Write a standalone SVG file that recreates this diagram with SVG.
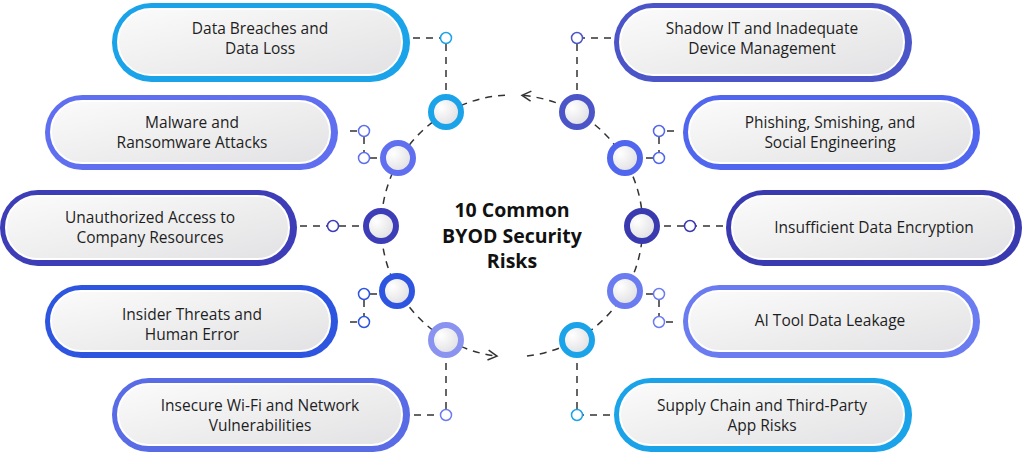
<svg xmlns="http://www.w3.org/2000/svg" width="1024" height="454" viewBox="0 0 1024 454">
<defs>
<linearGradient id="g" x1="0" y1="0" x2="1" y2="1"><stop offset="0" stop-color="#fbfbfb"/><stop offset="1" stop-color="#e2e2e4"/></linearGradient>
<radialGradient id="cg" cx="0.35" cy="0.35" r="0.8"><stop offset="0" stop-color="#ffffff"/><stop offset="1" stop-color="#d9d9dd"/></radialGradient>
<marker id="ar" viewBox="0 0 12 12" refX="10" refY="6" markerWidth="12" markerHeight="12" markerUnits="userSpaceOnUse" orient="auto"><path d="M1 1 L10 6 L1 11" fill="none" stroke="#333" stroke-width="1.5"/></marker>
<style>
.t{font-family:"Open Sans","Noto Sans",sans-serif;font-size:15.5px;fill:#1e1e1e;text-anchor:middle}
.c{font-family:"Open Sans","Noto Sans",sans-serif;font-size:19.5px;font-weight:bold;fill:#111;text-anchor:middle}
.in{fill:url(#g);stroke:#fff;stroke-width:2}
.d{fill:none;stroke:#333;stroke-width:1.5;stroke-dasharray:7 6}
.big{fill:url(#cg);stroke-width:6}
.sm{fill:#fff;stroke-width:1.5}
</style>
</defs>
<g id="connectors">
<path class="d" d="M505 95.2 A131 131 0 0 0 497 356.1" marker-end="url(#ar)"/>
<path class="d" d="M527 356.1 A131 131 0 0 0 522 95.4" marker-end="url(#ar)"/>
<path class="d" d="M413 38 H440 M446 44 V94"/>
<path class="d" d="M350 131 H358 M364 137 V152 M370 158 H380"/>
<path class="d" d="M300 226 H327 M339 226 H363"/>
<path class="d" d="M370 294 H380 M364 300 V316 M350 322 H358"/>
<path class="d" d="M414 415 H440 M446 409 V358"/>
<path class="d" d="M611 38 H583 M577 44 V94"/>
<path class="d" d="M674 131 H665 M659 137 V152 M653 158 H643"/>
<path class="d" d="M723 226 H696 M684 226 H660"/>
<path class="d" d="M653 294 H643 M659 300 V316 M673 322 H665"/>
<path class="d" d="M610 415 H583 M577 409 V358"/>
</g>
<g id="center"><text class="c" x="512" y="217">10 Common</text><text class="c" x="512" y="243">BYOD Security</text><text class="c" x="512" y="268">Risks</text></g>
<g id="n1"><rect x="112" y="3" width="298" height="79" rx="39.5" fill="#1aa3e8"/><rect class="in" x="118" y="9" width="284" height="66" rx="33"/><text class="t" x="260" y="34">Data Breaches and</text><text class="t" x="260" y="54">Data Loss</text><circle class="big" cx="446" cy="112" r="15" stroke="#1aa3e8"/><circle class="sm" cx="446" cy="38" r="5.5" stroke="#1aa3e8"/></g>
<g id="n2"><rect x="45" y="95" width="293" height="75" rx="37.5" fill="#5f6ff0"/><rect class="in" x="51" y="101" width="279" height="62" rx="31"/><text class="t" x="192" y="128">Malware and</text><text class="t" x="192" y="148">Ransomware Attacks</text><circle class="big" cx="398" cy="158" r="15" stroke="#5f6ff0"/><circle class="sm" cx="364" cy="131" r="5.5" stroke="#5f6ff0"/><circle class="sm" cx="364" cy="158" r="5.5" stroke="#5f6ff0"/></g>
<g id="n3"><rect x="0" y="190" width="297" height="76" rx="38" fill="#3d3db8"/><rect class="in" x="6" y="196" width="283" height="63" rx="31.5"/><text class="t" x="150" y="223">Unauthorized Access to</text><text class="t" x="150" y="243">Company Resources</text><circle class="big" cx="381" cy="226" r="15" stroke="#3d3db8"/><circle class="sm" cx="333" cy="226" r="5.5" stroke="#3d3db8"/></g>
<g id="n4"><rect x="45" y="285" width="293" height="73" rx="36.5" fill="#2d55e0"/><rect class="in" x="51" y="291" width="279" height="60" rx="30"/><text class="t" x="192" y="320">Insider Threats and</text><text class="t" x="192" y="340">Human Error</text><circle class="big" cx="397" cy="291" r="15" stroke="#2d55e0"/><circle class="sm" cx="364" cy="294" r="5.5" stroke="#2d55e0"/><circle class="sm" cx="364" cy="322" r="5.5" stroke="#2d55e0"/></g>
<g id="n5"><rect x="112" y="378" width="298" height="74" rx="37" fill="#5a6be6"/><rect class="in" x="118" y="384" width="284" height="61" rx="30.5"/><text class="t" x="260" y="411">Insecure Wi-Fi and Network</text><text class="t" x="260" y="431">Vulnerabilities</text><circle class="big" cx="446" cy="340" r="15" stroke="#8a94f0"/><circle class="sm" cx="446" cy="415" r="5.5" stroke="#6b7cf0"/></g>
<g id="n6"><rect x="614" y="3" width="298" height="79" rx="39.5" fill="#4b55c8"/><rect class="in" x="620" y="9" width="284" height="66" rx="33"/><text class="t" x="762" y="34">Shadow IT and Inadequate</text><text class="t" x="762" y="54">Device Management</text><circle class="big" cx="577" cy="112" r="15" stroke="#4b55c8"/><circle class="sm" cx="577" cy="38" r="5.5" stroke="#4b55c8"/></g>
<g id="n7"><rect x="683" y="95" width="297" height="75" rx="37.5" fill="#5166ee"/><rect class="in" x="689" y="101" width="283" height="62" rx="31"/><text class="t" x="830" y="128">Phishing, Smishing, and</text><text class="t" x="830" y="148">Social Engineering</text><circle class="big" cx="625" cy="158" r="15" stroke="#5166ee"/><circle class="sm" cx="659" cy="131" r="5.5" stroke="#5166ee"/><circle class="sm" cx="659" cy="158" r="5.5" stroke="#5166ee"/></g>
<g id="n8"><rect x="726" y="190" width="296" height="76" rx="38" fill="#3a3ab0"/><rect class="in" x="732" y="196" width="282" height="63" rx="31.5"/><text class="t" x="874" y="233">Insufficient Data Encryption</text><circle class="big" cx="642" cy="226" r="15" stroke="#3a3ab0"/><circle class="sm" cx="690" cy="226" r="5.5" stroke="#3a3ab0"/></g>
<g id="n9"><rect x="683" y="285" width="297" height="73" rx="36.5" fill="#6b7cf0"/><rect class="in" x="689" y="291" width="283" height="60" rx="30"/><text class="t" x="830" y="326">AI Tool Data Leakage</text><circle class="big" cx="625" cy="291" r="15" stroke="#6b7cf0"/><circle class="sm" cx="659" cy="294" r="5.5" stroke="#6b7cf0"/><circle class="sm" cx="659" cy="322" r="5.5" stroke="#6b7cf0"/></g>
<g id="n10"><rect x="614" y="378" width="298" height="74" rx="37" fill="#1aa3e8"/><rect class="in" x="620" y="384" width="284" height="61" rx="30.5"/><text class="t" x="762" y="411">Supply Chain and Third-Party</text><text class="t" x="762" y="431">App Risks</text><circle class="big" cx="577" cy="340" r="15" stroke="#1aa3e8"/><circle class="sm" cx="577" cy="415" r="5.5" stroke="#1aa3e8"/></g>
</svg>
